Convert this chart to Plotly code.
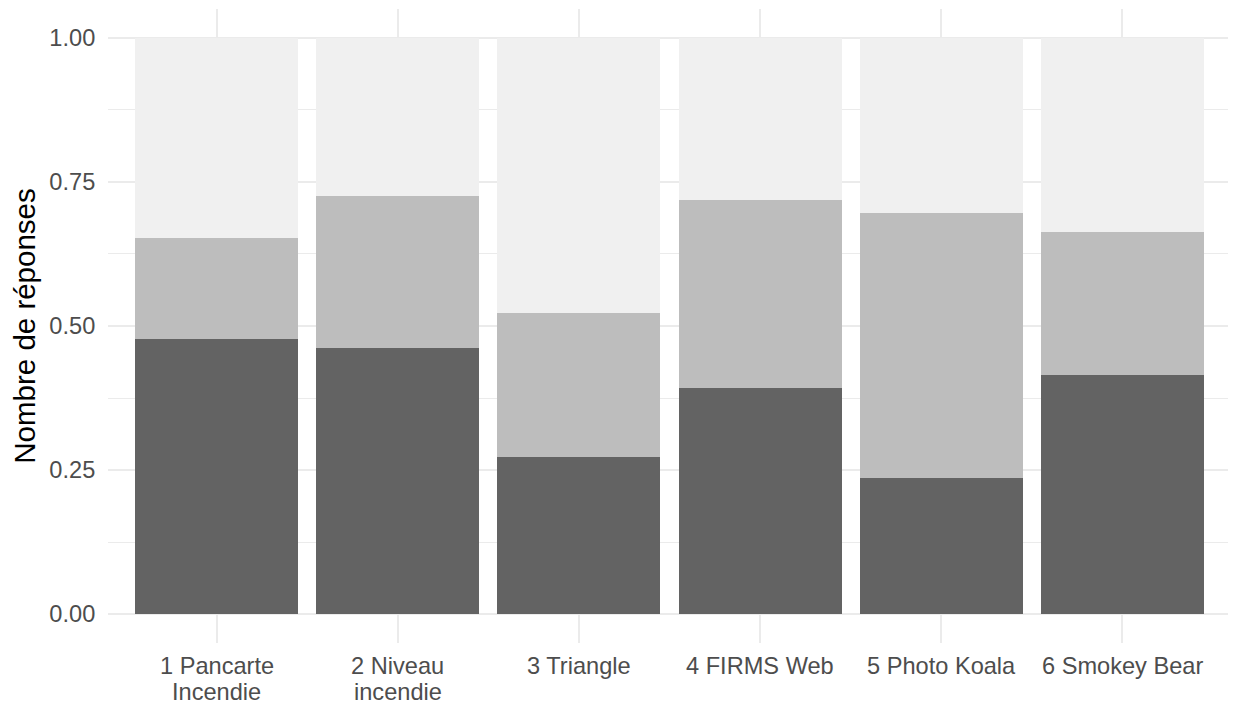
import plotly.graph_objects as go

categories = ["1 Pancarte<br>Incendie", "2 Niveau<br>incendie", "3 Triangle",
              "4 FIRMS Web", "5 Photo Koala", "6 Smokey Bear"]
# proportions of answers per panel (bottom to top)
dark_vals = [0.477, 0.462, 0.273, 0.392, 0.236, 0.415]
mid_vals = [0.176, 0.264, 0.250, 0.327, 0.460, 0.248]
light_vals = [0.347, 0.274, 0.477, 0.281, 0.304, 0.337]

colors = ["#636363", "#bdbdbd", "#f0f0f0"]

fig = go.Figure()
for vals, col in zip([dark_vals, mid_vals, light_vals], colors):
    fig.add_trace(go.Bar(x=categories, y=vals, marker_color=col,
                         marker_line_width=0, showlegend=False))

# category labels drawn line by line (ggplot uses tighter line spacing than plotly)
for cat in categories:
    for j, line in enumerate(cat.split("<br>")):
        fig.add_annotation(x=cat, xref="x", y=0, yref="paper", yanchor="top",
                           yshift=-8 - 26 * j, text=line, showarrow=False,
                           font=dict(size=23.6, color="#4d4d4d"))

# the page body adds an 8px margin, so the figure is sized to fit the window
fig.update_layout(
    barmode="stack",
    bargap=0.1,
    width=1228,
    height=696,
    margin=dict(l=100, r=5, t=1, b=61),
    paper_bgcolor="white",
    plot_bgcolor="white",
    font=dict(family="Liberation Sans, Arial, sans-serif", size=23.6, color="#4d4d4d"),
)
fig.update_xaxes(
    range=[-0.6, 5.6],
    automargin=False,
    showgrid=True, gridcolor="#ebebeb", gridwidth=2.2,
    showline=False, zeroline=False,
    showticklabels=False,
)
fig.update_yaxes(
    range=[-0.05, 1.05],
    automargin=False,
    tickvals=[0, 0.25, 0.5, 0.75, 1.0],
    ticktext=["0.00", "0.25", "0.50", "0.75", "1.00"],
    showgrid=True, gridcolor="#ebebeb", gridwidth=2.2,
    minor=dict(tickvals=[0.125, 0.375, 0.625, 0.875], showgrid=True,
               gridcolor="#ebebeb", gridwidth=1.2),
    showline=False, zeroline=False,
    ticks="outside", ticklen=7, tickcolor="rgba(0,0,0,0)",
    tickfont=dict(size=23.6, color="#4d4d4d"),
    title=dict(text="Nombre de réponses", font=dict(size=29.5, color="black"), standoff=11),
)

fig.write_html("out.html")
